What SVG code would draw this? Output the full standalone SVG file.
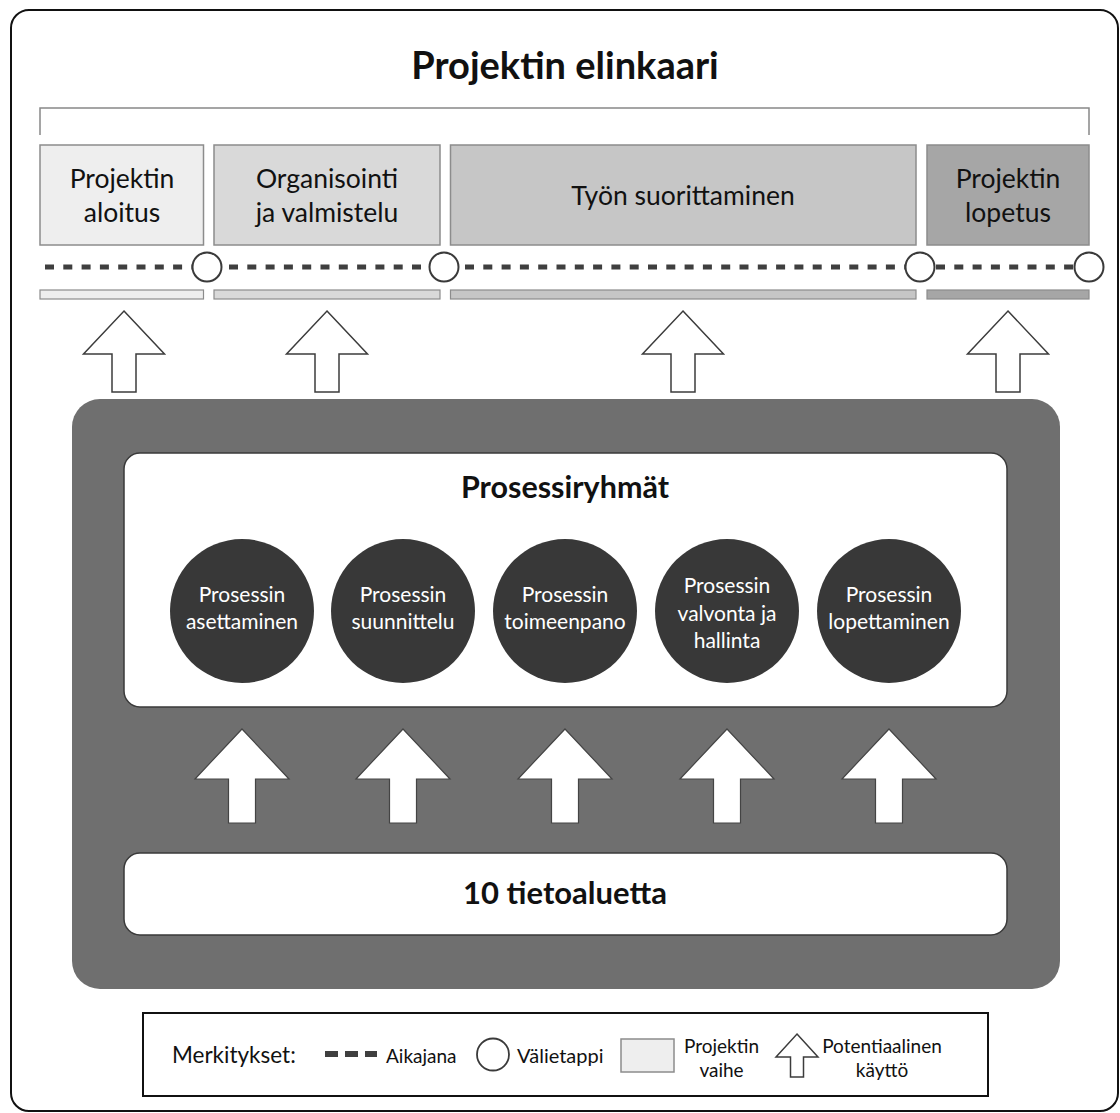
<svg xmlns="http://www.w3.org/2000/svg" width="1120" height="1113" viewBox="0 0 1120 1113">
<style>
text{font-family:Lato,"Open Sans","Liberation Sans",sans-serif;fill:#111;text-anchor:middle}
.phase{stroke:#8c8c8c;stroke-width:1.5}
.bar{stroke:#8c8c8c;stroke-width:1.2}
.ms{fill:#fff;stroke:#3a3a3a;stroke-width:2}
.tl{stroke:#3f3f3f;stroke-width:5;stroke-dasharray:9 9.3;fill:none}
.ph{font-size:26.5px}
.circ{fill:#383838}
.ct{font-size:21px;fill:#fff}
.upa{fill:#fff;stroke:#3c3c3c;stroke-width:1.5}
.lowa{fill:#fff;stroke:#444;stroke-width:1.2}
.lg{font-size:22.5px}
.lgs{font-size:19px}
</style>
<rect x="11" y="10" width="1107" height="1101" rx="18" fill="#fff" stroke="#111" stroke-width="2"/>
<text x="565" y="79" font-size="38" font-weight="bold">Projektin elinkaari</text>
<path d="M40,135 V108 H1089 V135" fill="none" stroke="#888" stroke-width="1.5"/>

<g id="phase1"><rect class="phase" x="40" y="145" width="163.5" height="100" fill="#eeeeee"/><text class="ph" x="122" y="188">Projektin</text><text class="ph" x="122" y="222">aloitus</text></g>
<g id="phase2"><rect class="phase" x="214" y="145" width="226" height="100" fill="#d9d9d9"/><text class="ph" x="327" y="188">Organisointi</text><text class="ph" x="327" y="222">ja valmistelu</text></g>
<g id="phase3"><rect class="phase" x="450.5" y="145" width="465.5" height="100" fill="#c6c6c6"/><text class="ph" x="683" y="205">Työn suorittaminen</text></g>
<g id="phase4"><rect class="phase" x="927" y="145" width="162" height="100" fill="#a6a6a6"/><text class="ph" x="1008" y="188">Projektin</text><text class="ph" x="1008" y="222">lopetus</text></g>

<g id="timeline">
<line class="tl" x1="45" y1="267" x2="192" y2="267"/>
<line class="tl" x1="229" y1="267" x2="429" y2="267"/>
<line class="tl" x1="465" y1="267" x2="905" y2="267"/>
<line class="tl" x1="936" y1="267" x2="1074" y2="267"/>
</g>
<g id="milestones">
<circle class="ms" cx="207" cy="267" r="14.5"/>
<circle class="ms" cx="444" cy="267" r="14.5"/>
<circle class="ms" cx="920" cy="267" r="14.5"/>
<circle class="ms" cx="1089" cy="267" r="14.5"/>
</g>
<g id="bars">
<rect class="bar" x="40" y="290" width="163.5" height="9" fill="#eeeeee"/>
<rect class="bar" x="214" y="290" width="226" height="9" fill="#d9d9d9"/>
<rect class="bar" x="450.5" y="290" width="465.5" height="9" fill="#c6c6c6"/>
<rect class="bar" x="927" y="290" width="162" height="9" fill="#a6a6a6"/>
</g>

<g id="connectors">
<path class="upa" d="M124,311 L164.5,354 L136,354 L136,392 L112,392 L112,354 L83.5,354 Z"/>
<path class="upa" d="M327,311 L367.5,354 L339,354 L339,392 L315,392 L315,354 L286.5,354 Z"/>
<path class="upa" d="M683,311 L723.5,354 L695,354 L695,392 L671,392 L671,354 L642.5,354 Z"/>
<path class="upa" d="M1008,311 L1048.5,354 L1020,354 L1020,392 L996,392 L996,354 L967.5,354 Z"/>
</g>

<g id="container"><rect x="72" y="399" width="988" height="590" rx="28" fill="#6f6f6f"/></g>

<g id="processgroups">
<rect x="124" y="453" width="883" height="254" rx="16" fill="#fff" stroke="#3a3a3a" stroke-width="1.5"/>
<text x="565" y="498" font-size="30.5" font-weight="bold">Prosessiryhmät</text>
</g>
<g id="p1"><circle class="circ" cx="242" cy="611" r="72"/><text class="ct" x="242" y="602">Prosessin</text><text class="ct" x="242" y="629">asettaminen</text></g>
<g id="p2"><circle class="circ" cx="403" cy="611" r="72"/><text class="ct" x="403" y="602">Prosessin</text><text class="ct" x="403" y="629">suunnittelu</text></g>
<g id="p3"><circle class="circ" cx="565" cy="611" r="72"/><text class="ct" x="565" y="602">Prosessin</text><text class="ct" x="565" y="629">toimeenpano</text></g>
<g id="p4"><circle class="circ" cx="727" cy="611" r="72"/><text class="ct" x="727" y="593">Prosessin</text><text class="ct" x="727" y="621">valvonta ja</text><text class="ct" x="727" y="648">hallinta</text></g>
<g id="p5"><circle class="circ" cx="889" cy="611" r="72"/><text class="ct" x="889" y="602">Prosessin</text><text class="ct" x="889" y="629">lopettaminen</text></g>

<g id="connectors-lower">
<path class="lowa" d="M242,729 L289,779 L255.5,779 L255.5,823 L228.5,823 L228.5,779 L195,779 Z"/>
<path class="lowa" d="M403,729 L450,779 L416.5,779 L416.5,823 L389.5,823 L389.5,779 L356,779 Z"/>
<path class="lowa" d="M565,729 L612,779 L578.5,779 L578.5,823 L551.5,823 L551.5,779 L518,779 Z"/>
<path class="lowa" d="M727,729 L774,779 L740.5,779 L740.5,823 L713.5,823 L713.5,779 L680,779 Z"/>
<path class="lowa" d="M889,729 L936,779 L902.5,779 L902.5,823 L875.5,823 L875.5,779 L842,779 Z"/>
</g>

<g id="knowledge">
<rect x="124" y="853" width="883" height="82" rx="16" fill="#fff" stroke="#3a3a3a" stroke-width="1.5"/>
<text x="565" y="904" font-size="31" font-weight="bold">10 tietoaluetta</text>
</g>

<g id="legend">
<rect x="143" y="1013" width="845" height="83" fill="#fff" stroke="#111" stroke-width="2"/>
<text class="lg" x="172" y="1063" style="text-anchor:start">Merkitykset:</text>
<rect x="325" y="1051" width="13" height="6" fill="#3f3f3f"/>
<rect x="345" y="1051" width="13" height="6" fill="#3f3f3f"/>
<rect x="365" y="1051" width="12" height="6" fill="#3f3f3f"/>
<text class="lgs" x="386" y="1063" style="text-anchor:start">Aikajana</text>
<circle cx="493" cy="1054.5" r="16" fill="#fff" stroke="#3a3a3a" stroke-width="1.8"/>
<text x="517" y="1063" font-size="20" style="text-anchor:start">Välietappi</text>
<rect x="621" y="1039" width="53" height="33" fill="#eeeeee" stroke="#8c8c8c" stroke-width="1.5"/>
<text class="lgs" x="721.5" y="1053">Projektin</text>
<text class="lgs" x="721.5" y="1077">vaihe</text>
<path class="upa" d="M797,1034 L818,1057 L803.5,1057 L803.5,1077 L790.5,1077 L790.5,1057 L776,1057 Z"/>
<text class="lgs" x="882" y="1053">Potentiaalinen</text>
<text class="lgs" x="882" y="1077">käyttö</text>
</g>
</svg>
